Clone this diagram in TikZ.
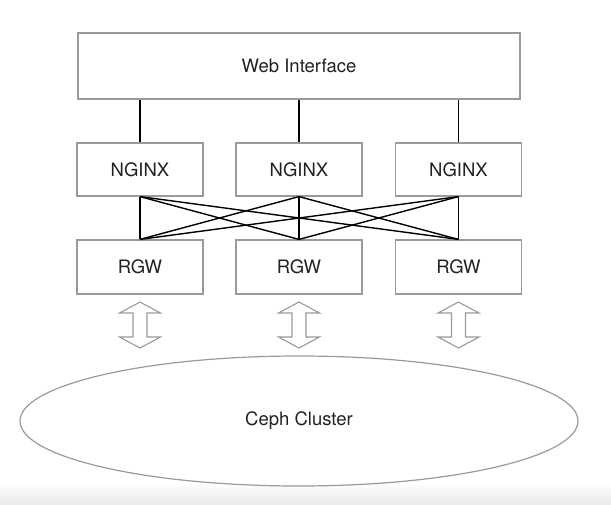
\documentclass[tikz,border=0pt]{standalone}
\usepackage{fontspec}
\setmainfont{TeX Gyre Heros}
\usetikzlibrary{shapes.geometric}
\definecolor{boxgray}{HTML}{9A9A9A}
\definecolor{txt}{HTML}{222222}
\begin{document}
\begin{tikzpicture}[x=1pt,y=-1pt,
  box/.style={draw=boxgray,line width=1.2pt,fill=white,minimum width=126pt,minimum height=53pt,inner sep=0pt,font=\fontsize{18.5}{21}\selectfont,text=txt},
  link/.style={draw=black,line width=1.4pt},
  dblarrow/.style={draw=boxgray,line width=1.1pt,fill=white,line join=miter}]
\useasboundingbox (0,0) rectangle (611,504);
\shade[top color=white,bottom color=black!8] (0,482) rectangle (611,504);
\node[box,minimum width=442pt,minimum height=66pt] (web) at (299,66) {Web Interface};
\foreach \i/\x in {1/140,2/299,3/458.5}{
  \node[box] (n\i) at (\x,169.5) {NGINX};
  \node[box,minimum height=54pt] (r\i) at (\x,267) {RGW};
  \draw[link] (web.south -| n\i.north) -- (n\i.north);
  \draw[dblarrow] (\x,302) -- (\x+20.5,313) -- (\x+7,313) -- (\x+7,337) -- (\x+20.5,337) -- (\x,348)
     -- (\x-20.5,337) -- (\x-7,337) -- (\x-7,313) -- (\x-20.5,313) -- cycle;
}
\foreach \i in {1,2,3}{
  \foreach \j in {1,2,3}{
    \draw[link] (n\i.south) -- (r\j.north);
  }
}
\node[ellipse,draw=boxgray,line width=1.2pt,minimum width=558pt,minimum height=130pt,inner sep=0pt,font=\fontsize{18.5}{21}\selectfont,text=txt] (ceph) at (299,421) {Ceph Cluster};
\end{tikzpicture}
\end{document}
